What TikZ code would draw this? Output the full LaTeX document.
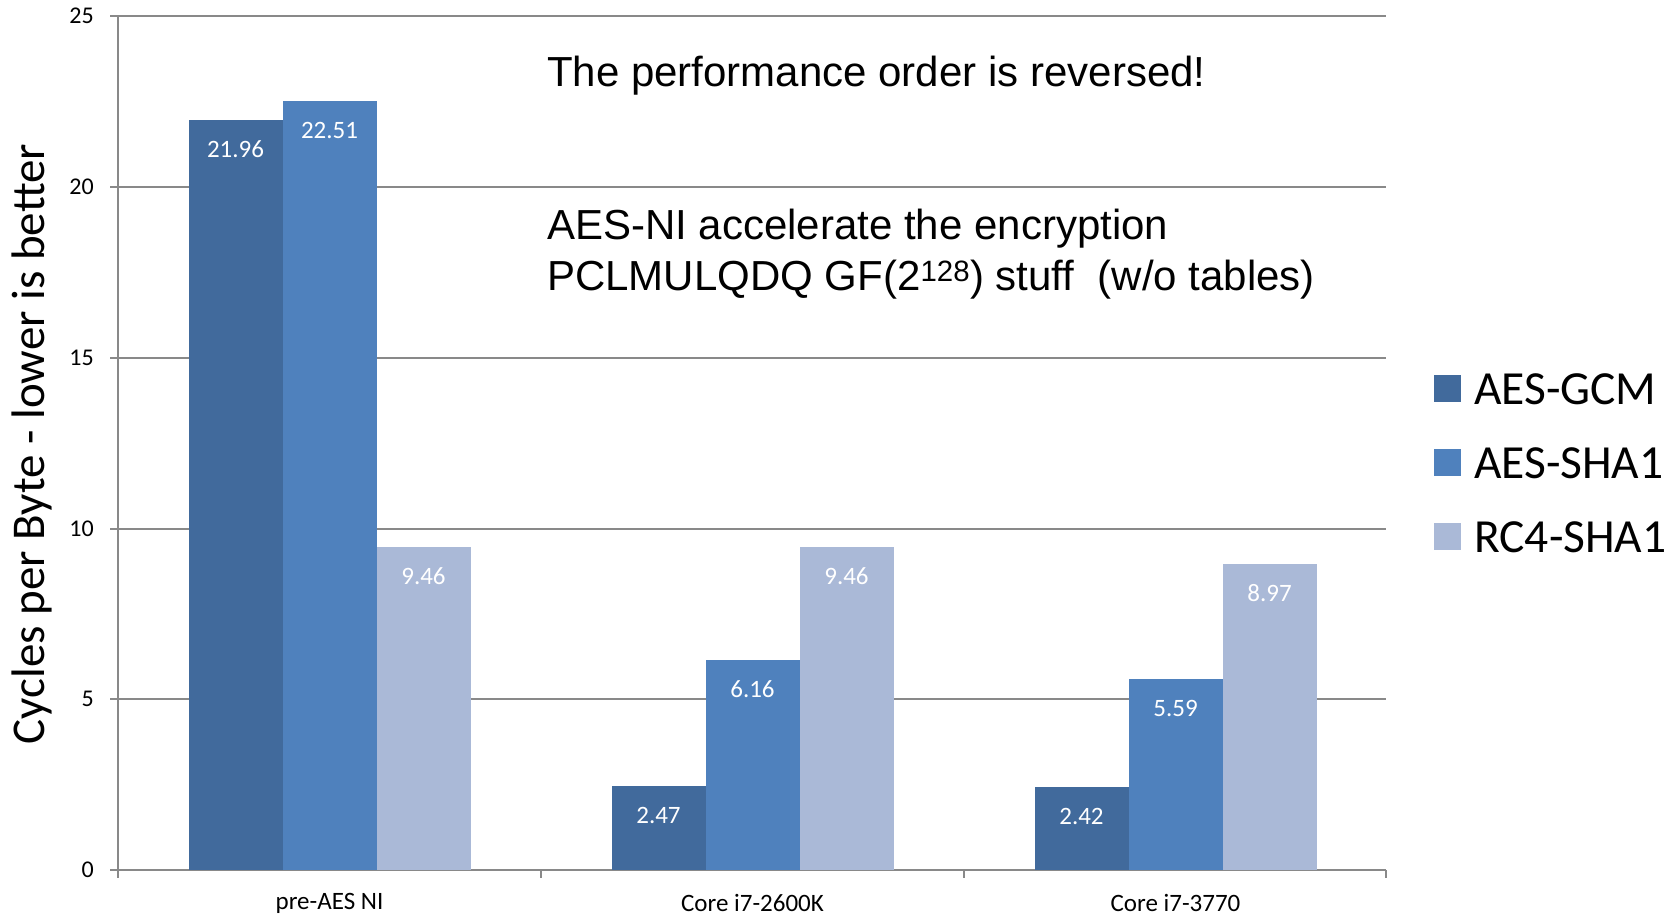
\documentclass[tikz,border=0pt]{standalone}
\usepackage{fontspec}
\setmainfont{Carlito}
\newfontfamily\arialfont{Liberation Sans}
\usepackage{xcolor}
\usepackage{tikz}
\definecolor{gcmblue}{HTML}{416A9C}
\definecolor{shablue}{HTML}{4F81BD}
\definecolor{rcblue}{HTML}{AAB9D7}
\definecolor{gridgray}{HTML}{898989}

\begin{document}
\begin{tikzpicture}[x=1pt,y=-1pt,
  gridline/.style={draw=gridgray,line width=2pt},
  vallab/.style={text=white,inner sep=0pt,font=\fontsize{25}{30}\selectfont},
  ylab/.style={anchor=east,inner sep=0pt,font=\fontsize{24}{28}\selectfont},
  catlab/.style={inner sep=0pt,font=\fontsize{25}{30}\selectfont},
  notelab/.style={anchor=west,inner sep=0pt,font=\arialfont\fontsize{42}{50}\selectfont},
  leglab/.style={anchor=west,inner sep=0pt,font=\fontsize{47.5}{56}\selectfont}]
  \useasboundingbox (0,0) rectangle (1679,918);
  % grid and axes
  \draw[gridline] (110,16) -- (1386,16);
  \draw[gridline] (110,187) -- (1386,187);
  \draw[gridline] (110,358) -- (1386,358);
  \draw[gridline] (110,529) -- (1386,529);
  \draw[gridline] (110,699) -- (1386,699);
  \draw[gridline] (110,870) -- (1386,870);
  \draw[gridline] (118,16) -- (118,878);
  \draw[gridline] (541,870) -- (541,878);
  \draw[gridline] (964,870) -- (964,878);
  \draw[gridline] (1386,870) -- (1386,878);
  \node[ylab] (y25) at (94,16) {25};
  \node[ylab] (y20) at (94,187) {20};
  \node[ylab] (y15) at (94,358) {15};
  \node[ylab] (y10) at (94,529) {10};
  \node[ylab] (y5) at (94,699) {5};
  \node[ylab] (y0) at (94,870) {0};
  \node[rotate=90,inner sep=0pt,font=\fontsize{47}{56}\selectfont] (ytitle) at (32,444) {Cycles per Byte - lower is better};
  % bars
  \fill[gcmblue] (188.5,870) rectangle (282.5,119.8);
  \fill[shablue] (282.5,870) rectangle (376.5,101.1);
  \fill[rcblue] (376.5,870) rectangle (470.5,546.8);
  \fill[gcmblue] (611.5,870) rectangle (705.5,785.6);
  \fill[shablue] (705.5,870) rectangle (799.5,659.6);
  \fill[rcblue] (799.5,870) rectangle (893.5,546.8);
  \fill[gcmblue] (1034.5,870) rectangle (1128.5,787.3);
  \fill[shablue] (1128.5,870) rectangle (1222.5,679.0);
  \fill[rcblue] (1222.5,870) rectangle (1316.5,563.6);
  \node[vallab] (v11) at (235.5,149) {21.96};
  \node[vallab] (v12) at (329.5,130) {22.51};
  \node[vallab] (v13) at (423.5,576) {9.46};
  \node[vallab] (v21) at (658.5,815) {2.47};
  \node[vallab] (v22) at (752.5,689) {6.16};
  \node[vallab] (v23) at (846.5,576) {9.46};
  \node[vallab] (v31) at (1081.5,816) {2.42};
  \node[vallab] (v32) at (1175.5,708) {5.59};
  \node[vallab] (v33) at (1269.5,593) {8.97};
  \node[catlab] (c1) at (329.5,903) {pre-AES NI};
  \node[catlab] (c2) at (752.5,903) {Core i7-2600K};
  \node[catlab] (c3) at (1175.5,903) {Core i7-3770};
  % notes
  \node[notelab] (note1) at (547,76) {The performance order is reversed!};
  \node[notelab] (note2) at (547,229) {AES-NI accelerate the encryption};
  \node[notelab] (note3) at (547,280) {PCLMULQDQ GF(2\textsuperscript{128}) stuff~ (w/o tables)};
  % legend
  \fill[gcmblue] (1434,375) rectangle (1461,402);
  \fill[shablue] (1434,449) rectangle (1461,476);
  \fill[rcblue] (1434,523) rectangle (1461,550);
  \node[leglab] (l1) at (1474,389) {AES-GCM};
  \node[leglab] (l2) at (1474,463) {AES-SHA1};
  \node[leglab] (l3) at (1474,537) {RC4-SHA1};
\end{tikzpicture}
\end{document}
